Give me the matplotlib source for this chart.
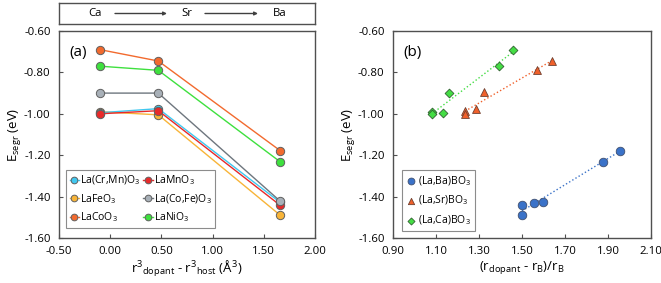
import numpy as np
import matplotlib
matplotlib.use("Agg")
import matplotlib.pyplot as plt

plt.rcParams['font.family'] = ['Open Sans', 'DejaVu Sans']
plt.rcParams['mathtext.fontset'] = 'custom'
plt.rcParams['mathtext.rm'] = 'Open Sans'
plt.rcParams['mathtext.it'] = 'Open Sans'

# ---- data, panel (a)
x_a = [-0.10, 0.47, 1.66]
series_names = ["La(Cr,Mn)O$_3$", "LaMnO$_3$", "LaFeO$_3$", "La(Co,Fe)O$_3$", "LaCoO$_3$", "LaNiO$_3$"]
crmn = [-0.995, -0.975, -1.428]
mn = [-1.000, -0.985, -1.442]
fe = [-0.990, -1.005, -1.490]
cofe = [-0.900, -0.900, -1.422]
co = [-0.690, -0.745, -1.178]
ni = [-0.770, -0.790, -1.232]
series_vals = [crmn, mn, fe, cofe, co, ni]
line_colors = ["#40c8f0", "#e82a2a", "#f8b438", "#6e767e", "#f26a2e", "#3ee03e"]
marker_colors = ["#40c8f0", "#e82a2a", "#f8b438", "#a8b0b8", "#f26a2e", "#3ee03e"]

# ---- data, panel (b)
ba_x = [1.50, 1.50, 1.555, 1.597, 1.875, 1.955]
ba_y = [-1.440, -1.490, -1.430, -1.424, -1.232, -1.178]
sr_x = [1.235, 1.235, 1.287, 1.323, 1.571, 1.641]
sr_y = [-0.985, -1.003, -0.975, -0.895, -0.788, -0.745]
ca_x = [1.080, 1.080, 1.131, 1.162, 1.394, 1.457]
ca_y = [-0.993, -1.003, -0.995, -0.900, -0.770, -0.690]

W, H = 661, 283
fig = plt.figure(figsize=(W / 100, H / 100), dpi=100)

spine_c = "#505050"
fs = 8.2

def frac(x0, y0, x1, y1):
    return [x0 / W, 1 - y1 / H, (x1 - x0) / W, (y1 - y0) / H]

def style(ax):
    for s in ax.spines.values():
        s.set_color(spine_c)
        s.set_linewidth(1.0)
    ax.tick_params(direction='in', length=3, color=spine_c, labelsize=fs, pad=6)

# top box
axt = fig.add_axes(frac(59, 3, 315, 24))
axt.set_xlim(0, 256)
axt.set_ylim(0, 1)
axt.set_xticks([]); axt.set_yticks([])
for s in axt.spines.values():
    s.set_color(spine_c)
    s.set_linewidth(1.0)
for lab, xp in [("Ca", 36), ("Sr", 128), ("Ba", 221)]:
    axt.text(xp, 0.5, lab, ha='center', va='center', fontsize=fs)
for xs, xe in [(56, 108), (146, 199)]:
    axt.annotate("", xy=(xe, 0.5), xytext=(xs, 0.5),
                 arrowprops=dict(arrowstyle='-|>', color='#404040', lw=1.0,
                                 mutation_scale=5, shrinkA=0, shrinkB=0))

# panel (a)
ax1 = fig.add_axes(frac(59, 31, 315, 238))
style(ax1)
handles = {}
for i in [2, 0, 1, 3, 5, 4]:
    h, = ax1.plot(x_a, series_vals[i], '-o', color=line_colors[i], lw=1.0,
                  markersize=6, markerfacecolor=marker_colors[i],
                  markeredgecolor='#606060', markeredgewidth=0.7)
    handles[i] = h
ax1.set_xlim(-0.5, 2.0)
ax1.set_ylim(-1.6, -0.6)
ax1.set_xticks(np.arange(-0.5, 2.01, 0.5))
ax1.set_xticklabels([f"{v:.2f}" for v in np.arange(-0.5, 2.01, 0.5)])
ax1.set_yticks(np.arange(-1.6, -0.59, 0.2))
ax1.set_yticklabels([f"{v:.2f}" for v in np.arange(-1.6, -0.59, 0.2)])
ax1.set_xlabel(r"r$^3$$_{\mathregular{dopant}}$ - r$^3$$_{\mathregular{host}}$ (Å$^3$)", fontsize=9.5, labelpad=1)
ax1.set_ylabel(r"E$_{\mathregular{segr}}$ (eV)", fontsize=9.5, labelpad=1)
ax1.text(0.04, 0.93, "(a)", transform=ax1.transAxes, fontsize=11, va='top')
leg_order = [0, 2, 4, 1, 3, 5]
leg1 = ax1.legend([handles[i] for i in leg_order], [series_names[i] for i in leg_order],
                  ncol=2, loc='lower left', bbox_to_anchor=(0.027, 0.048), borderaxespad=0,
                  fontsize=7.5, frameon=True, fancybox=False, edgecolor='#707070',
                  handlelength=0.9, handletextpad=0.1, columnspacing=0.3,
                  labelspacing=0.45, borderpad=0.35, markerscale=0.8)
leg1.get_frame().set_linewidth(0.8)

# panel (b)
ax2 = fig.add_axes(frac(393, 31, 651, 238))
style(ax2)
for xs, ys, col in [(ba_x, ba_y, "#3a72c8"), (sr_x, sr_y, "#f0602a"), (ca_x, ca_y, "#44dd44")]:
    p = np.polyfit(xs, ys, 1)
    xx = np.array([min(xs), max(xs)])
    ax2.plot(xx, np.polyval(p, xx), ':', color=col, lw=1.0)
hb = ax2.scatter(ba_x, ba_y, marker='o', s=38, color="#3a72c8", edgecolor='#405070', linewidth=0.6, zorder=3)
hs = ax2.scatter(sr_x, sr_y, marker='^', s=32, color="#f0602a", edgecolor='#704030', linewidth=0.6, zorder=3)
hc = ax2.scatter(ca_x, ca_y, marker='D', s=20, color="#44dd44", edgecolor='#306030', linewidth=0.6, zorder=3)
ax2.set_xlim(0.9, 2.1)
ax2.set_ylim(-1.6, -0.6)
xt = np.arange(0.9, 2.11, 0.2)
ax2.set_xticks(xt)
ax2.set_xticklabels([f"{v:.2f}" for v in xt])
ax2.set_yticks(np.arange(-1.6, -0.59, 0.2))
ax2.set_yticklabels([f"{v:.2f}" for v in np.arange(-1.6, -0.59, 0.2)])
ax2.set_xlabel(r"(r$_{\mathregular{dopant}}$ - r$_{\mathregular{B}}$)/r$_{\mathregular{B}}$", fontsize=9.5, labelpad=1)
ax2.set_ylabel(r"E$_{\mathregular{segr}}$ (eV)", fontsize=9.5, labelpad=1)
ax2.text(0.04, 0.93, "(b)", transform=ax2.transAxes, fontsize=11, va='top')
leg2 = ax2.legend([hb, hs, hc], ["(La,Ba)BO$_3$", "(La,Sr)BO$_3$", "(La,Ca)BO$_3$"],
                  loc='lower left', bbox_to_anchor=(0.035, 0.034), borderaxespad=0,
                  fontsize=7.5, frameon=True, fancybox=False, edgecolor='#707070',
                  handlelength=1.0, handletextpad=0.2, labelspacing=0.6,
                  borderpad=0.35, markerscale=0.8)
leg2.get_frame().set_linewidth(0.8)

fig.savefig("out.png", dpi=100)
